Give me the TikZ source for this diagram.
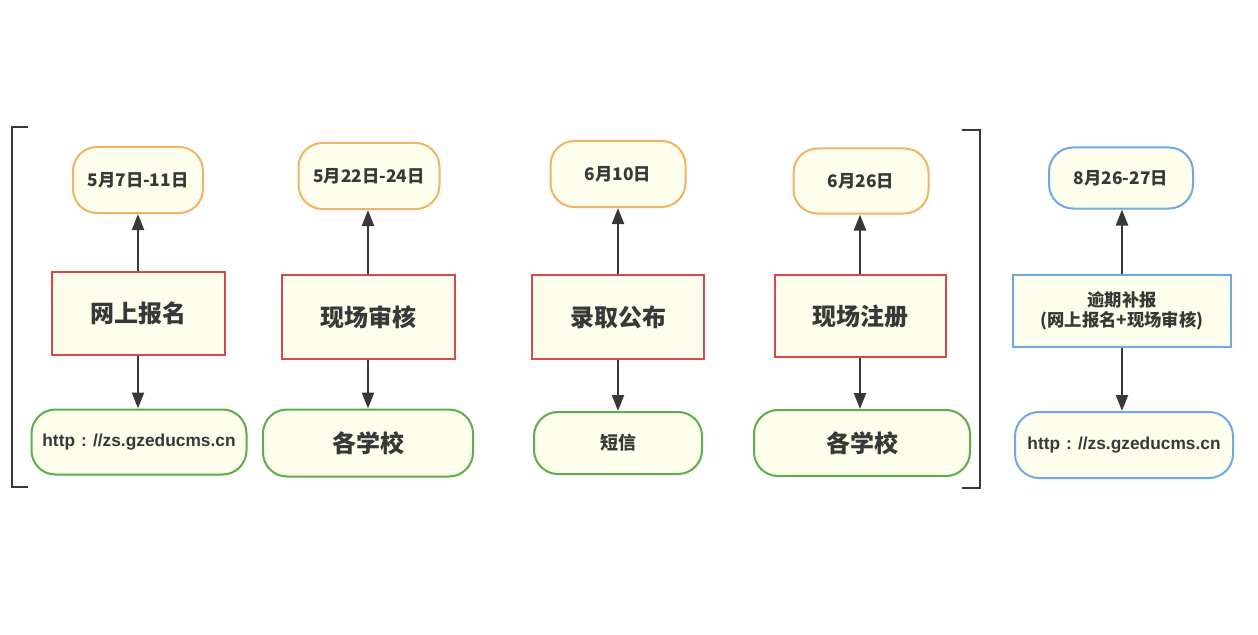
\documentclass[tikz,border=0pt]{standalone}
\usepackage{fontspec}
\setmainfont{Noto Sans CJK SC}
\newfontfamily\latinsans{Liberation Sans}
\usetikzlibrary{arrows.meta}
\definecolor{fillc}{HTML}{FEFEEC}
\definecolor{orangec}{HTML}{F0B466}
\definecolor{redc}{HTML}{D9474A}
\definecolor{greenc}{HTML}{5BAE4A}
\definecolor{bluec}{HTML}{6EA9E6}
\definecolor{inkc}{HTML}{383838}
\newcommand\siteurl{{\latinsans http\hspace{0.35em}:\hspace{0.35em}//zs.gzeducms.cn}}
\tikzset{
  basebox/.style={draw, line width=1.5pt, fill=fillc, text=inkc, font=\bfseries, inner sep=0pt, align=center},
  sz/.style 2 args={minimum width=#1*0.75pt, minimum height=#2*0.75pt},
  datebox/.style={basebox, draw=orangec, rounded corners=18pt, font=\fontsize{13pt}{15pt}\bfseries},
  stepbox/.style={basebox, draw=redc, font=\fontsize{18pt}{21pt}\bfseries},
  wherebox/.style={basebox, draw=greenc, rounded corners=18pt},
  bluebox/.style={basebox, draw=bluec, rounded corners=18pt, font=\fontsize{13pt}{15pt}\bfseries},
  bluerect/.style={basebox, draw=bluec, font=\fontsize{13pt}{15pt}\bfseries},
  conn/.style={draw=inkc, line width=1.6pt, -{Triangle[length=12pt,width=9pt]}},
  brack/.style={draw=inkc, line width=1.6pt},
  urlfont/.style={font=\fontsize{13pt}{15pt}\bfseries},
  bigfont/.style={font=\fontsize{18pt}{21pt}\bfseries},
  smallfont/.style={font=\fontsize{13.5pt}{15pt}\bfseries}
}
\begin{document}
\begin{tikzpicture}[x=0.75pt,y=-0.75pt]
\useasboundingbox[fill=white] (0,0) rectangle (1258,635);
% column 1
\node[datebox, sz={130}{66}] (o1) at (138,180) {5月7日-11日};
\node[stepbox, sz={173}{83}] (r1) at (138,313) {网上报名};
\node[wherebox, urlfont, sz={215}{65}] (g1) at (139,442) {\siteurl};
% column 2
\node[datebox, sz={141}{66}] (o2) at (369,176) {5月22日-24日};
\node[stepbox, sz={173}{84}] (r2) at (368,317) {现场审核};
\node[wherebox, bigfont, sz={210}{67}] (g2) at (368,443) {各学校};
% column 3
\node[datebox, sz={135}{66}] (o3) at (618,174) {6月10日};
\node[stepbox, sz={172}{84}] (r3) at (618,317) {录取公布};
\node[wherebox, smallfont, sz={168}{62}] (g3) at (618,443) {短信};
% column 4
\node[datebox, sz={135}{65}] (o4) at (861,181) {6月26日};
\node[stepbox, sz={171}{82}] (r4) at (860,316) {现场注册};
\node[wherebox, bigfont, sz={216}{66}] (g4) at (862,443) {各学校};
% column 5
\node[bluebox, sz={144}{61}] (b1) at (1121,178) {8月26-27日};
\node[bluerect, sz={218}{72}] (b2) at (1122,311) {逾期补报\\(网上报名+现场审核)};
\node[bluebox, sz={218}{66}] (b3) at (1124,445) {\siteurl};
% connectors
\foreach \i in {1,2,3,4}{
  \draw[conn] (r\i.north) -- (r\i.north |- o\i.south);
  \draw[conn] (r\i.south) -- (r\i.south |- g\i.north);
}
\draw[conn] (b2.north) -- (b2.north |- b1.south);
\draw[conn] (b2.south) -- (b2.south |- b3.north);
% brackets
\coordinate (lbt) at (28,127);
\coordinate (lbb) at (28,487);
\coordinate (rbt) at (962,130);
\coordinate (rbb) at (962,488);
\draw[brack] (lbt) -- (12,127) -- (12,487) -- (lbb);
\draw[brack] (rbt) -- (980,130) -- (980,488) -- (rbb);
\end{tikzpicture}
\end{document}
